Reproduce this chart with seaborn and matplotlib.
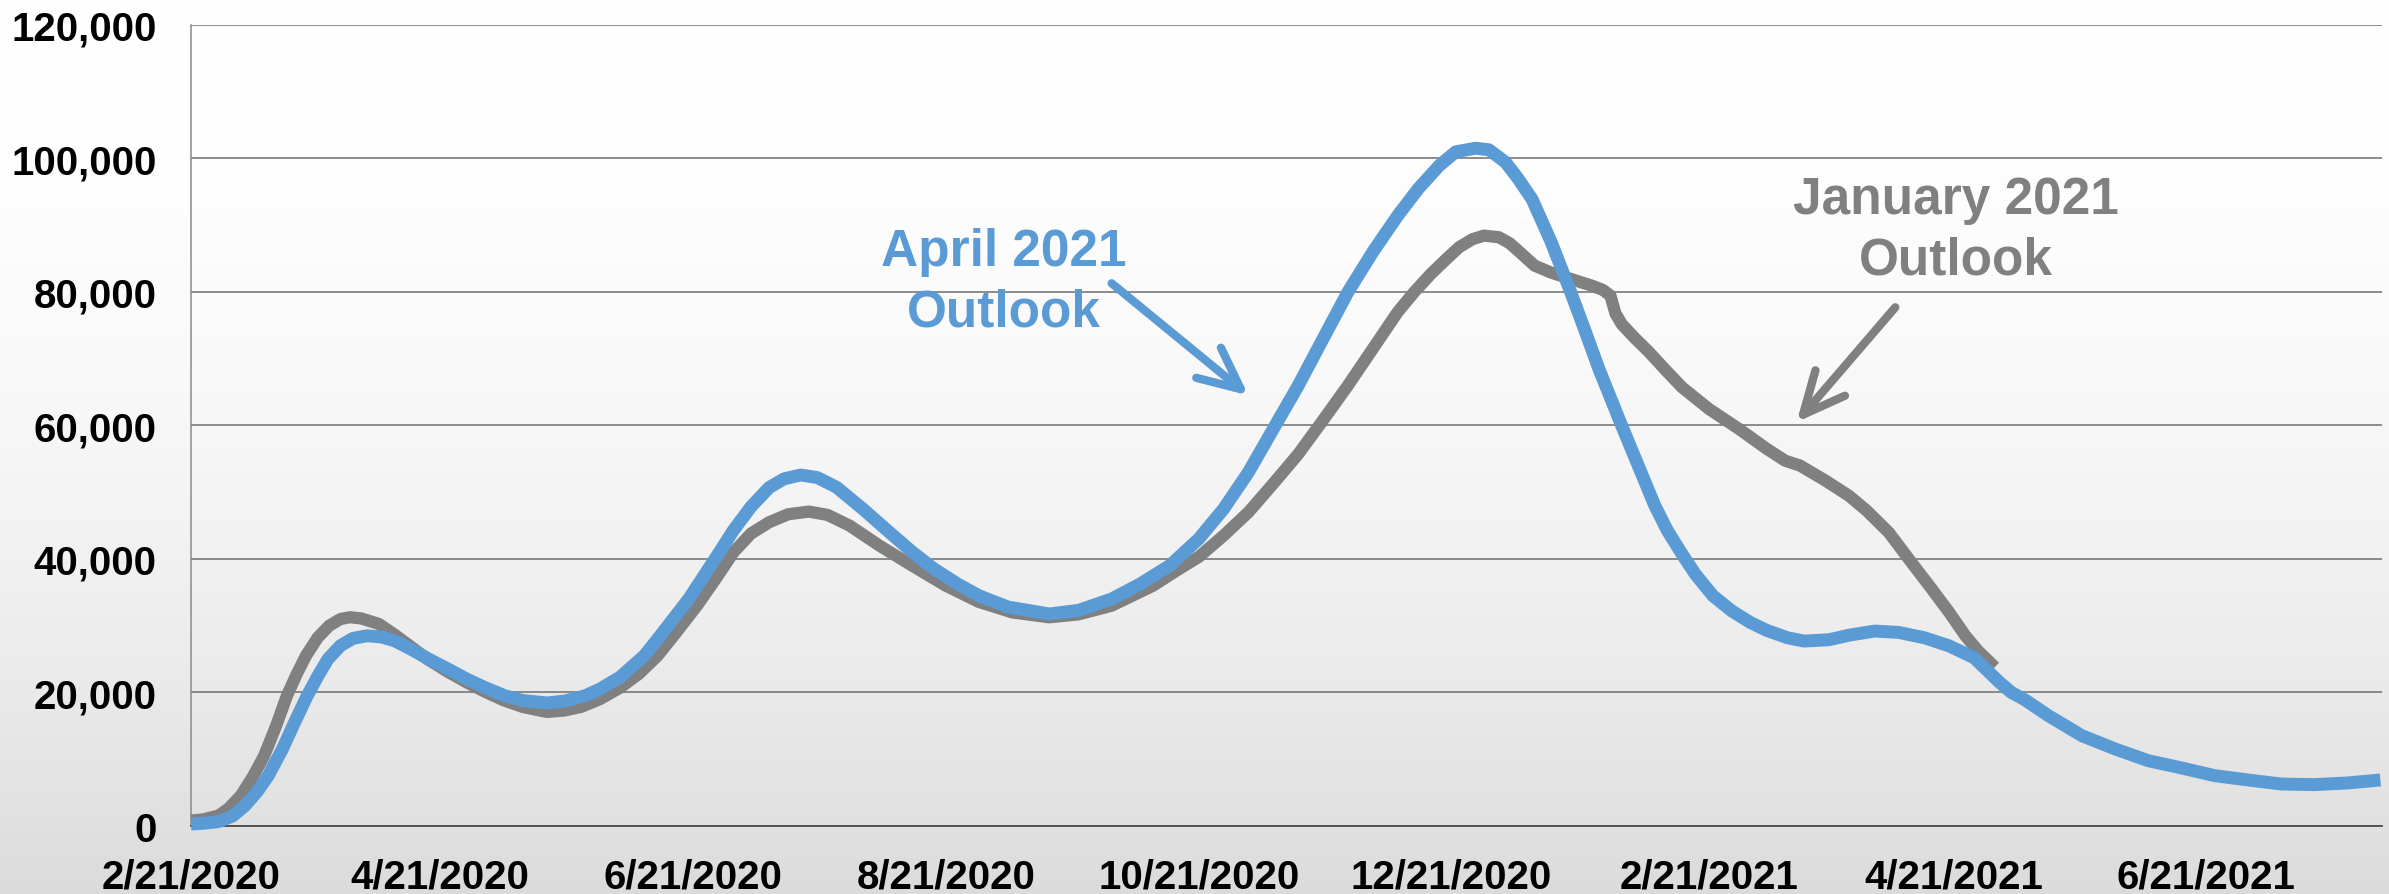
import numpy as np
import pandas as pd
import seaborn as sns
import matplotlib.pyplot as plt
import matplotlib.ticker as mticker
import matplotlib.dates as mdates

# days after 2/21/2020 and values
start_date = pd.Timestamp('2020-02-21')

jan_days = [0, 3, 6.6, 9, 12, 15, 17.6, 20.5, 23.1, 25.5, 27.7, 30.5, 33.3, 36, 38.3, 41, 45.3,
            49, 52.7, 57, 62, 66.5, 71, 75.5, 80, 85.8, 90, 94, 98.6, 103.4, 108, 112.5, 117,
            122, 126.5, 130.8, 135, 139.4, 144, 149, 153.5, 158.8, 166, 173.9, 182, 190, 198,
            207, 214, 222, 232, 237.5, 243, 249, 255, 261, 267, 273, 279, 285, 291, 295, 299,
            302.5, 305.8, 309, 311.8, 315.4, 318, 320, 324, 328, 331.5, 335, 337.8, 340.5,
            342.3, 343.5, 345, 348, 351.6, 355.6, 359.6, 366, 373.3, 380, 384.5, 388, 394,
            399.8, 404, 409.4, 414.5, 419.8, 424, 427.9, 431, 435]
jan_cases = [800, 1000, 1550, 2600, 4550, 7500, 10500, 15000, 19500, 22800, 25500, 28200,
             30000, 31000, 31270, 31100, 30260, 28700, 27000, 25000, 23070, 21500, 20070,
             18800, 17830, 17080, 17300, 17830, 19000, 20700, 22800, 25500, 29000, 33000,
             37000, 41000, 43800, 45500, 46700, 47100, 46600, 45000, 42000, 39000, 36000,
             33560, 32000, 31260, 31700, 33000, 36000, 38200, 40300, 43500, 47000, 51300,
             55700, 60800, 66000, 71500, 77000, 80000, 82700, 84800, 86700, 87900, 88440,
             88200, 87300, 86200, 83950, 82900, 82200, 81500, 80950, 80300, 79450, 76800,
             75200, 73200, 71000, 68300, 65700, 62500, 59480, 56500, 54700, 54000, 51800,
             49480, 47300, 44000, 39800, 35500, 32000, 28500, 26200, 23800]

apr_days = [0, 3, 6.6, 10, 13, 16, 18.6, 22, 25, 28, 30.6, 33, 36, 39, 42.5, 46, 49, 53,
            57.3, 62, 66.5, 71, 75.7, 80, 85.8, 90, 95, 98.6, 103.4, 109.3, 112.5, 120,
            127.4, 130.8, 135, 139.4, 143, 147, 151, 155.6, 162, 168.4, 174, 179.2, 185, 190,
            197, 207, 214, 222, 229, 236, 243, 249, 255, 261, 267, 273, 279, 285, 291, 296,
            301, 305, 309.8, 313, 317, 320, 323.4, 328, 332.7, 336, 339.5, 345, 349, 353, 356,
            359.6, 362.8, 367, 371.6, 376, 380, 385, 389, 395, 400, 406, 411.8, 418, 423.9,
            430, 436, 439, 442, 448, 456, 464, 472, 480, 488, 496, 504, 512, 520, 528]
apr_cases = [300, 400, 650, 1500, 3050, 5200, 7540, 11500, 15580, 19500, 22500, 25000, 27000,
             28100, 28500, 28300, 27760, 26500, 25000, 23500, 22000, 20700, 19500, 18800,
             18430, 18700, 19500, 20520, 22280, 25520, 28000, 34000, 41000, 44300, 47800,
             50700, 52000, 52580, 52200, 50770, 47500, 44000, 41000, 38500, 36200, 34500,
             32800, 31760, 32300, 34000, 36300, 39000, 43000, 47500, 53000, 59500, 65970,
             73000, 80000, 86000, 91440, 95500, 98920, 101000, 101530, 101300, 99430, 97000,
             93900, 87500, 80000, 74500, 68500, 60000, 54000, 48000, 44300, 40700, 37700,
             34500, 32200, 30500, 29300, 28200, 27700, 27900, 28600, 29200, 29000, 28200,
             27000, 25200, 21600, 20000, 19000, 16500, 13530, 11540, 9780, 8700, 7540, 6900,
             6290, 6190, 6440, 6890]

series_names = ['January 2021 Outlook', 'April 2021 Outlook']
tick_dates = ['2020-02-21', '2020-04-21', '2020-06-21', '2020-08-21', '2020-10-21',
              '2020-12-21', '2021-02-21', '2021-04-21', '2021-06-21']
y_ticks = [0, 20000, 40000, 60000, 80000, 100000, 120000]

GRAY = '#808080'
BLUE = '#5B9BD5'

df = pd.concat([
    pd.DataFrame({'date': start_date + pd.to_timedelta(jan_days, unit='D'),
                  'cases': jan_cases, 'outlook': series_names[0]}),
    pd.DataFrame({'date': start_date + pd.to_timedelta(apr_days, unit='D'),
                  'cases': apr_cases, 'outlook': series_names[1]}),
], ignore_index=True)

sns.set_style('white')
plt.rcParams['font.family'] = ['Liberation Sans', 'DejaVu Sans']
plt.rcParams['font.weight'] = 'bold'

fig = plt.figure(figsize=(23.89, 8.95), dpi=100)

# gradient background over the whole figure
bg = fig.add_axes([0, 0, 1, 1], zorder=0)
t = np.linspace(0, 1, 400)[:, None]
shade = 1 - 0.14 * t ** 2
bg.imshow(np.dstack([shade, shade, shade]), aspect='auto', extent=[0, 1, 1, 0])
bg.set_axis_off()

ax = fig.add_axes([0.0800, 0.0760, 0.9171, 0.8950], zorder=1)
ax.patch.set_alpha(0)

sns.lineplot(data=df, x='date', y='cases', hue='outlook', hue_order=series_names,
             palette={series_names[0]: GRAY, series_names[1]: BLUE},
             linewidth=9, legend=False, ax=ax, estimator=None, sort=False)
for line in ax.get_lines():
    is_blue = line.get_color().lower() == BLUE.lower()
    line.set_linewidth(9.3 if is_blue else 8.8)
    line.set_zorder(4 if is_blue else 3)
    line.set_solid_capstyle('butt')
    line.set_solid_joinstyle('round')
    line.set_clip_on(False)

ax.set_xlim(start_date, start_date + pd.Timedelta(days=528.4))
ax.set_ylim(0, 120000)
ax.set_xticks(pd.to_datetime(tick_dates))
ax.xaxis.set_major_formatter(mticker.FuncFormatter(
    lambda v, p: (lambda d: f'{d.month}/{d.day}/{d.year}')(mdates.num2date(v))))
ax.set_yticks(y_ticks)
ax.yaxis.set_major_formatter(mticker.FuncFormatter(lambda v, p: f'{int(v):,}'))

ax.grid(axis='y', color='#6e6e6e', linewidth=1.1)
ax.grid(axis='x', visible=False)
for side in ['top', 'right']:
    ax.spines[side].set_visible(False)
ax.spines['left'].set_color('#8a8a8a')
ax.spines['left'].set_linewidth(1.1)
ax.spines['bottom'].set_color('#4a4a4a')
ax.spines['bottom'].set_linewidth(1.3)
ax.tick_params(axis='y', length=9, width=1.1, color='#6e6e6e', pad=16, labelsize=29,
               labelcolor='black')
ax.tick_params(axis='x', length=9, width=1.1, color='#4a4a4a', pad=14, labelsize=29,
               labelcolor='black')
ax.set_xlabel('')
ax.set_ylabel('')
for lab in ax.get_xticklabels() + ax.get_yticklabels():
    lab.set_fontweight('bold')


def day(d):
    return start_date + pd.Timedelta(days=d)


arrow_style = '->, head_length=1.5, head_width=0.7'
ax.annotate('', xy=(day(255), 64500), xytext=(day(222), 81300),
            arrowprops=dict(arrowstyle=arrow_style, color=BLUE, lw=6,
                            mutation_scale=20, shrinkA=0, shrinkB=0,
                            capstyle='round', joinstyle='round'), zorder=5)
ax.annotate('', xy=(day(387.2), 60500), xytext=(day(411), 77700),
            arrowprops=dict(arrowstyle=arrow_style, color=GRAY, lw=6,
                            mutation_scale=20, shrinkA=0, shrinkB=0,
                            capstyle='round', joinstyle='round'), zorder=5)

ax.text(day(196), 81500, 'April 2021\nOutlook', color=BLUE, fontsize=37, fontweight='bold',
        ha='center', va='center', multialignment='center', linespacing=1.3, zorder=5)
ax.text(day(425.5), 89300, 'January 2021\nOutlook', color=GRAY, fontsize=37, fontweight='bold',
        ha='center', va='center', multialignment='center', linespacing=1.3, zorder=5)

fig.savefig('out.png', dpi=100)
